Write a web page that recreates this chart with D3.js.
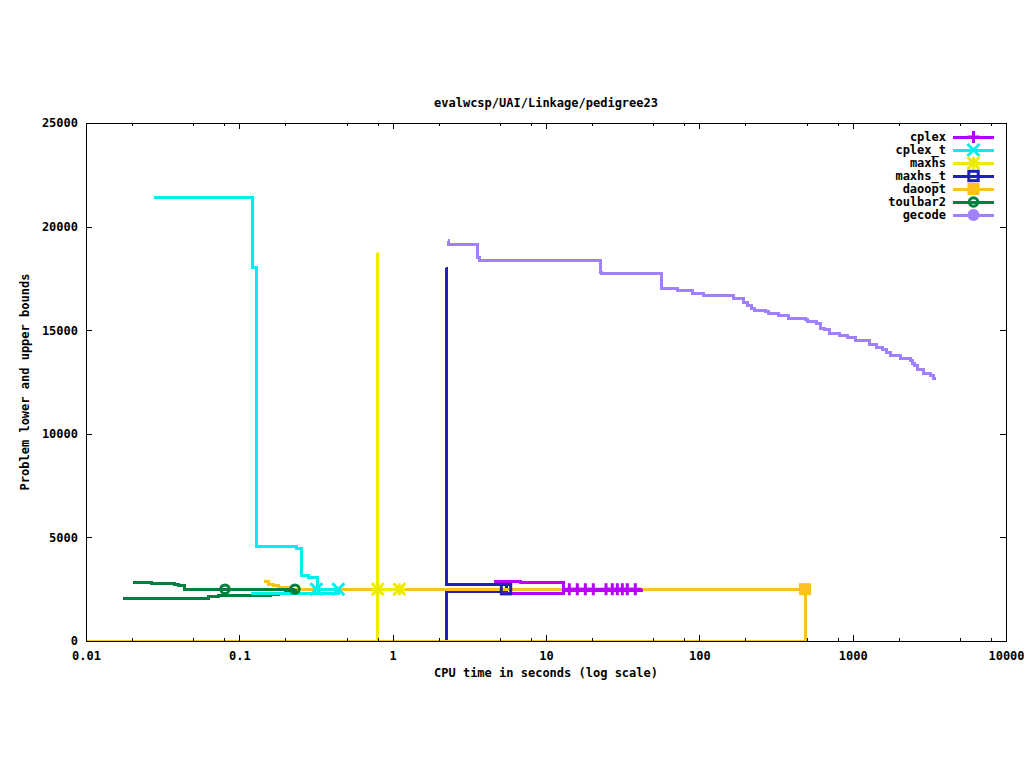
<!DOCTYPE html>
<html>
<head>
<meta charset="utf-8">
<script src="https://cdn.jsdelivr.net/npm/d3@7"></script>
<style>
  html, body { margin: 0; padding: 0; background: #fff; }
  svg { display: block; }
  text { font-family: "DejaVu Sans Mono", "Liberation Mono", monospace; font-weight: bold; font-size: 12px; fill: #000; }
</style>
</head>
<body>
<svg id="chart" width="1024" height="768"></svg>
<script>
// ---------- data (time in seconds, bound value) ----------
const titleText = "evalwcsp/UAI/Linkage/pedigree23";
const xLabelText = "CPU time in seconds (log scale)";
const yLabelText = "Problem lower and upper bounds";

const xTickValues = [0.01, 0.1, 1, 10, 100, 1000, 10000];
const xTickLabels = ["0.01", "0.1", "1", "10", "100", "1000", "10000"];
const xMinorTicks = [0.02,0.05,0.08,0.2,0.5,0.8,2,5,8,20,50,80,200,500,800,2000,5000,8000];
const yTickValues = [0, 5000, 10000, 15000, 20000, 25000];
const yTickLabels = ["0", "5000", "10000", "15000", "20000", "25000"];

const solverNames = ["cplex", "cplex_t", "maxhs", "maxhs_t", "daoopt", "toulbar2", "gecode"];

const cplexUpper = [[4.58,2864],[6.77,2800],[12.97,2500],[42.1,2500]];
const cplexLower = [[5.01,2303],[12.97,2414],[42.1,2500]];
const cplexMarks = [[14.19,2500],[16.0,2500],[18.05,2500],[20.35,2500],[24.63,2500],[27.07,2500],[29.18,2500],[31.46,2500],[33.9,2500],[38.23,2500]];

const cplexTUpper = [[0.02788,21400],[0.1223,18046],[0.1285,4554],[0.2367,4476],[0.2552,3153],[0.2817,3057],[0.3225,2500],[0.442,2500]];
const cplexTLower = [[0.1187,2303],[0.442,2500]];
const cplexTMarks = [[0.318,2500],[0.442,2500]];

const maxhsUpper = [[0.794,18722],[0.795,2500],[1.105,2500]];
const maxhsLower = [[0.794,0],[0.795,2500]];
const maxhsMarks = [[0.80,2500],[1.105,2500]];

const maxhsTUpper = [[2.228,18000],[2.23,2704],[5.485,2500]];
const maxhsTLower = [[2.228,0],[2.23,2400],[5.485,2500]];
const maxhsTMarks = [[5.485,2500]];

const daooptUpper = [[0.1448,2850],[0.1545,2740],[0.1658,2670],[0.1814,2600],[0.2116,2500],[489,2500]];
const daooptLower = [[0.005,0],[489,2500]];
const daooptMarks = [[489,2500]];

const toulbar2Upper = [[0.02035,2835],[0.02683,2786],[0.03805,2738],[0.04,2656],[0.04376,2500],[0.2307,2500]];
const toulbar2Lower = [[0.01752,2062],[0.0625,2125],[0.0726,2173],[0.1585,2221],[0.1814,2284],[0.2006,2352],[0.2215,2420],[0.2307,2500]];
const toulbar2Marks = [[0.0806,2500],[0.2307,2500]];

const gecodeUpper = [[2.286,19316],[2.30,19137],[3.586,18529],[3.673,18384],[22.5,17785],[22.85,17722],
  [56.83,17032],[71.85,16902],[89.96,16790],[106.1,16660],[166.6,16515],[193.6,16356],[205.6,16192],
  [217.3,16066],[228.4,15970],[268.2,15921],[281.8,15825],[327.4,15728],[380.5,15583],[489,15501],
  [511,15419],[576.8,15308],[612.6,15100],[660,15052],[701,14859],[818.5,14728],[922.6,14666],
  [1036,14487],[1297,14328],[1435,14183],[1561,14052],[1667,13941],[1778,13797],[2036,13618],
  [2366,13521],[2449,13410],[2523,13280],[2656,13120],[2889,12927],[3195,12811],[3358,12686],[3481,12686]];
const gecodeLower = [];
const gecodeMarks = [];

// ---------- styles ----------
const colors = {
  cplex: "#b800ff", cplex_t: "#00eeee", maxhs: "#eeea00", maxhs_t: "#2020bb",
  daoopt: "#ffc020", toulbar2: "#007f3f", gecode: "#a080ff"
};
const markerTypes = {
  cplex: "plus", cplex_t: "cross", maxhs: "star", maxhs_t: "openSquare",
  daoopt: "filledSquare", toulbar2: "openCircle", gecode: "filledCircle"
};
const seriesData = {
  cplex: [cplexUpper, cplexLower, cplexMarks],
  cplex_t: [cplexTUpper, cplexTLower, cplexTMarks],
  maxhs: [maxhsUpper, maxhsLower, maxhsMarks],
  maxhs_t: [maxhsTUpper, maxhsTLower, maxhsTMarks],
  daoopt: [daooptUpper, daooptLower, daooptMarks],
  toulbar2: [toulbar2Upper, toulbar2Lower, toulbar2Marks],
  gecode: [gecodeUpper, gecodeLower, gecodeMarks]
};
const drawOrder = ["maxhs_t", "daoopt", "gecode", "toulbar2", "maxhs", "cplex_t", "cplex"];
const LW = 3;

// ---------- layout ----------
const L = 86, R = 1006, T = 123, B = 641;
const svg = d3.select("#chart");
const x = d3.scaleLog().domain([0.01, 10000]).range([L, R]);
const y = d3.scaleLinear().domain([0, 25000]).range([B, T]);

svg.append("defs").append("clipPath").attr("id", "plotclip")
  .append("rect").attr("x", L).attr("y", T).attr("width", R - L).attr("height", B - T);

function drawMarker(g, type, cx, cy, color) {
  const s = 6;
  const m = g.append("g").attr("transform", `translate(${cx},${cy})`);
  if (type === "plus") {
    m.append("path").attr("d", `M${-s},0H${s}M0,${-s}V${s}`).attr("stroke", color).attr("stroke-width", 3).attr("fill", "none");
  } else if (type === "cross") {
    m.append("path").attr("d", `M${-s},${-s}L${s},${s}M${-s},${s}L${s},${-s}`).attr("stroke", color).attr("stroke-width", 3).attr("fill", "none");
  } else if (type === "star") {
    m.append("path").attr("d", `M${-s},0H${s}M0,${-s}V${s}M${-s},${-s}L${s},${s}M${-s},${s}L${s},${-s}`).attr("stroke", color).attr("stroke-width", 3).attr("fill", "none");
  } else if (type === "openSquare") {
    m.append("rect").attr("x", -4.7).attr("y", -4.7).attr("width", 9.4).attr("height", 9.4).attr("stroke", color).attr("stroke-width", 3).attr("fill", "none");
  } else if (type === "filledSquare") {
    m.append("rect").attr("x", -6).attr("y", -6).attr("width", 12).attr("height", 12).attr("fill", color);
  } else if (type === "openCircle") {
    m.append("circle").attr("r", 4.3).attr("stroke", color).attr("stroke-width", 3).attr("fill", "none");
  } else if (type === "filledCircle") {
    m.append("circle").attr("r", 6).attr("fill", color);
  }
}

// ---------- data drawing ----------
const plot = svg.append("g").attr("clip-path", "url(#plotclip)");
const line = d3.line().x(d => x(d[0])).y(d => y(d[1])).curve(d3.curveStepAfter);

drawOrder.forEach(name => {
  const [up, lo] = seriesData[name];
  [lo, up].forEach(arr => {
    if (arr.length) {
      plot.append("path").attr("d", line(arr)).attr("fill", "none")
        .attr("stroke", colors[name]).attr("stroke-width", LW)
        .attr("stroke-linejoin", "miter").attr("shape-rendering", "crispEdges");
    }
  });
});
drawOrder.forEach(name => {
  const marks = seriesData[name][2];
  marks.forEach(d => drawMarker(plot, markerTypes[name], x(d[0]), y(d[1]), colors[name]));
});

// ---------- axes ----------
const axG = svg.append("g");
const bottomMajor = d3.axisBottom(x).tickValues(xTickValues).tickSize(-6).tickPadding(10)
  .tickFormat((d, i) => xTickLabels[i]);
const bottomMinor = d3.axisBottom(x).tickValues(xMinorTicks).tickSize(-3).tickFormat("");
const topMajor = d3.axisTop(x).tickValues(xTickValues).tickSize(-6).tickFormat("");
const topMinor = d3.axisTop(x).tickValues(xMinorTicks).tickSize(-3).tickFormat("");
const leftAx = d3.axisLeft(y).tickValues(yTickValues).tickSize(-6).tickPadding(8)
  .tickFormat((d, i) => yTickLabels[i]);
const rightAx = d3.axisRight(y).tickValues(yTickValues).tickSize(-6).tickFormat("");

function styleAxis(sel) {
  sel.select(".domain").remove();
  sel.selectAll("line").attr("stroke", "#000").attr("shape-rendering", "crispEdges");
  sel.selectAll("text").attr("font-family", null).attr("font-size", null).style("font-family", null);
}
axG.append("g").attr("transform", `translate(0,${B})`).call(bottomMajor).call(styleAxis);
axG.append("g").attr("transform", `translate(0,${B})`).call(bottomMinor).call(styleAxis);
axG.append("g").attr("transform", `translate(0,${T})`).call(topMajor).call(styleAxis);
axG.append("g").attr("transform", `translate(0,${T})`).call(topMinor).call(styleAxis);
axG.append("g").attr("transform", `translate(${L},0)`).call(leftAx).call(styleAxis);
axG.append("g").attr("transform", `translate(${R},0)`).call(rightAx).call(styleAxis);

svg.append("rect").attr("x", L).attr("y", T).attr("width", R - L).attr("height", B - T)
  .attr("fill", "none").attr("stroke", "#000").attr("stroke-width", 1).attr("shape-rendering", "crispEdges");

// ---------- text ----------
svg.append("text").attr("x", (L + R) / 2).attr("y", 107).attr("text-anchor", "middle").text(titleText);
svg.append("text").attr("x", (L + R) / 2).attr("y", 677).attr("text-anchor", "middle").text(xLabelText);
svg.append("text").attr("transform", `translate(29,${(T + B) / 2}) rotate(-90)`).attr("text-anchor", "middle").text(yLabelText);

// ---------- legend ----------
const leg = svg.append("g");
solverNames.forEach((name, i) => {
  const ry = 137 + i * 13;
  leg.append("text").attr("x", 946).attr("y", ry).attr("dy", "0.35em").attr("text-anchor", "end").text(name);
  leg.append("line").attr("x1", 953).attr("x2", 994).attr("y1", ry).attr("y2", ry)
    .attr("stroke", colors[name]).attr("stroke-width", LW).attr("shape-rendering", "crispEdges");
  drawMarker(leg, markerTypes[name], 973.5, ry, colors[name]);
});
</script>
</body>
</html>
